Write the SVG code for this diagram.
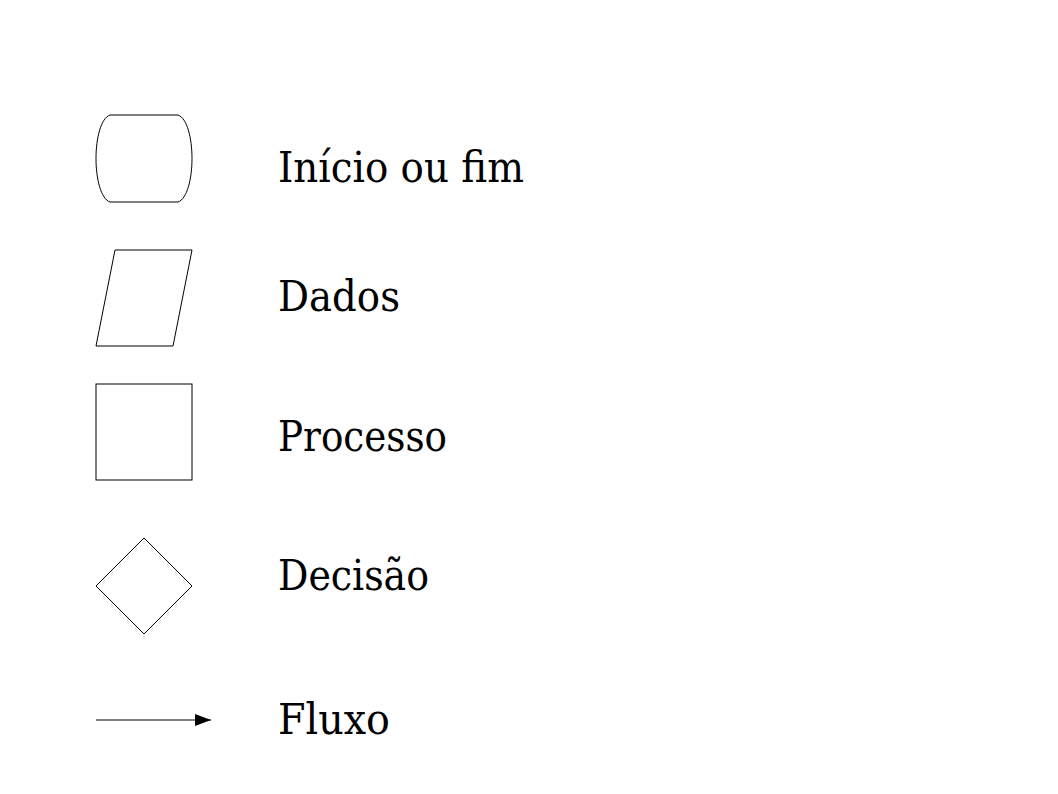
<svg xmlns="http://www.w3.org/2000/svg" width="1058" height="794" viewBox="0 0 1058 794">
<style>
.s{fill:none;stroke:#000;stroke-width:1}
.t{font-family:"DejaVu Serif","Liberation Serif",serif;font-size:42px;fill:#000}
</style>
<defs>
<marker id="ah" markerWidth="16" markerHeight="12" refX="16" refY="6" orient="auto" markerUnits="userSpaceOnUse">
<path d="M0,0 L16,6 L0,12 Z" fill="#000"/>
</marker>
</defs>
<rect width="1058" height="794" fill="#fff"/>
<g id="terminal">
<path class="s" d="M110,115 L178,115 C187,118 192,138 192,158.5 C192,179 187,199 178,202 L110,202 C101,199 96,179 96,158.5 C96,138 101,118 110,115 Z"/>
<text class="t" x="278" y="182" textLength="246" lengthAdjust="spacingAndGlyphs">Início ou fim</text>
</g>
<g id="dados">
<path class="s" d="M115,250 L192,250 L173,346 L96,346 Z"/>
<text class="t" x="278" y="311" textLength="122" lengthAdjust="spacingAndGlyphs">Dados</text>
</g>
<g id="processo">
<rect class="s" x="96" y="384" width="96" height="96"/>
<text class="t" x="278" y="451" textLength="169" lengthAdjust="spacingAndGlyphs">Processo</text>
</g>
<g id="decisao">
<path class="s" d="M144,538 L192,586 L144,634 L96,586 Z"/>
<text class="t" x="278" y="590" textLength="151" lengthAdjust="spacingAndGlyphs">Decisão</text>
</g>
<g id="connectors">
<line class="s" x1="96" y1="720" x2="211" y2="720" marker-end="url(#ah)"/>
</g>
<g id="fluxo">
<text class="t" x="278" y="734" textLength="112" lengthAdjust="spacingAndGlyphs">Fluxo</text>
</g>
</svg>
